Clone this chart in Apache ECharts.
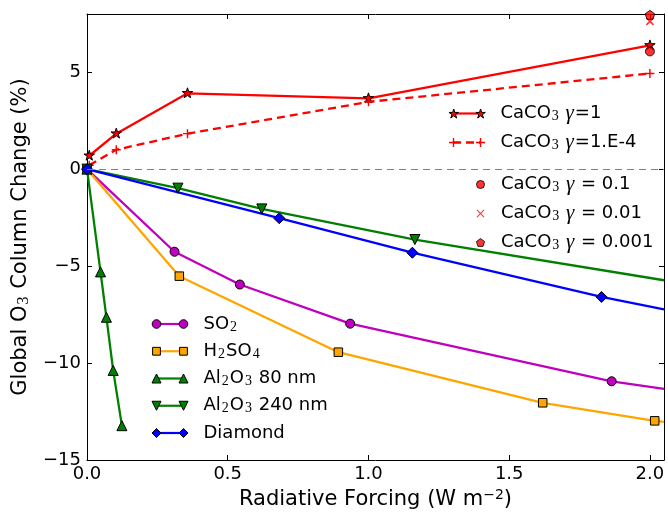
<!DOCTYPE html>
<html>
<head>
<meta charset="utf-8">
<script src="https://cdn.jsdelivr.net/npm/echarts@6/dist/echarts.min.js"></script>
<style>html,body{margin:0;padding:0;background:#fff}#c{width:668px;height:512px}</style>
</head>
<body>
<div id="c"></div>
<script>
// ---------------- data ----------------
const xTickLabels = [0.0, 0.5, 1.0, 1.5, 2.0];
const yTickLabels = [-15, -10, -5, 0, 5];

const caco3X         = [0.008, 0.104, 0.357, 1.0, 2.0];
const caco3Gamma1Y   = [0.69, 1.83, 3.91, 3.65, 6.38];
const caco3Gamma1e4Y = [0.20, 1.00, 1.83, 3.47, 4.93];

const caco3PointX      = [2.0];
const caco3Gamma01Y    = [6.07];
const caco3Gamma001Y   = [7.62];
const caco3Gamma0001Y  = [7.93];

const so2X     = [0, 0.311, 0.543, 0.935, 1.864, 2.05];
const so2Y     = [0, -4.26, -5.95, -7.97, -10.94, -11.33];
const h2so4X   = [0, 0.328, 0.893, 1.619, 2.017, 2.05];
const h2so4Y   = [0, -5.52, -9.44, -12.05, -12.98, -13.03];
const al80X    = [0, 0.048, 0.069, 0.093, 0.124];
const al80Y    = [0, -5.30, -7.64, -10.38, -13.23];
const al240X   = [0, 0.323, 0.621, 1.165, 2.05];
const al240Y   = [0, -0.98, -2.05, -3.63, -5.73];
const diamondX = [0, 0.683, 1.156, 1.828, 2.05];
const diamondY = [0, -2.53, -4.31, -6.59, -7.23];

// ---------------- styling ----------------
const X_MIN = 0, X_MAX = 2.05, Y_MIN = -15, Y_MAX = 8;
const RED = '#ff0000', MAG = '#bf00bf', ORG = '#ffa500', GRN = '#008000', BLU = '#0000ff';

// marker paths (100x100 boxes; leading moveTos fix the bounding box)
const STAR_PATH = 'path://M0,0 M100,100 M50,0 L61.2,34.5 L97.6,34.5 L68.2,55.9 L79.4,90.5 L50,69.1 L20.6,90.5 L31.8,55.9 L2.4,34.5 L38.8,34.5 Z';
const PLUS_PATH = 'path://M42,0 H58 V42 H100 V58 H58 V100 H42 V58 H0 V42 H42 Z';
const PENT_PATH = 'path://M0,0 M100,100 M50,0 L97.6,34.5 L79.4,90.5 L20.6,90.5 L2.4,34.5 Z';

function pairs(xs, ys) {
  return xs.map((x, i) => {
    const p = { value: [x, ys[i]] };
    if (x >= X_MAX) p.symbol = 'none';   // point only continues the line to the frame edge
    return p;
  });
}

// legend icon geometry (47 x 9 box, markers centred at 4.5 and 31.5)
const LW = 47, LH = 9, C1 = 4.5, C2 = 31.5, CY = 4.5;
const BOX = `M0,0 M${LW},${LH} `;
const f = (n) => n.toFixed(2);
function poly(pts) { return 'M' + pts.map(p => f(p[0]) + ',' + f(p[1])).join(' L') + ' Z '; }
function circ(cx, r) { return `M${f(cx - r)},${CY} A${r},${r} 0 1,0 ${f(cx + r)},${CY} A${r},${r} 0 1,0 ${f(cx - r)},${CY} Z `; }
function sq(cx, a) { return poly([[cx - a, CY - a], [cx + a, CY - a], [cx + a, CY + a], [cx - a, CY + a]]); }
function triUp(cx, r) { return poly([[cx, CY - r], [cx + r, CY + r], [cx - r, CY + r]]); }
function triDn(cx, r) { return poly([[cx - r, CY - r], [cx + r, CY - r], [cx, CY + r]]); }
function diam(cx, r) { return poly([[cx, CY - r], [cx + r, CY], [cx, CY + r], [cx - r, CY]]); }
function starP(cx, r) {
  const pts = [];
  for (let k = 0; k < 10; k++) {
    const a = (-90 + 36 * k) * Math.PI / 180, rr = k % 2 ? r * 0.382 : r;
    pts.push([cx + rr * Math.cos(a), CY + 0.5 + rr * Math.sin(a)]);
  }
  return poly(pts);
}
function pentP(cx, r) {
  const pts = [];
  for (let k = 0; k < 5; k++) {
    const a = (-90 + 72 * k) * Math.PI / 180;
    pts.push([cx + r * Math.cos(a), CY + 0.4 + r * Math.sin(a)]);
  }
  return poly(pts);
}
function crossP(cx, r, t, rot) {
  const base = [[-t, -r], [t, -r], [t, -t], [r, -t], [r, t], [t, t], [t, r], [-t, r], [-t, t], [-r, t], [-r, -t], [-t, -t]];
  const c = Math.cos(rot), s = Math.sin(rot);
  return poly(base.map(p => [cx + p[0] * c - p[1] * s, CY + p[0] * s + p[1] * c]));
}
const lineIcon = 'path://' + BOX + `M${C1},${CY - 1.1} H${C2} V${CY + 1.1} H${C1} Z`;
const dashIcon = 'path://' + BOX + `M${C1},${CY - 1.2} H12.5 V${CY + 1.2} H${C1} Z M17.5,${CY - 1.2} H25.5 V${CY + 1.2} H17.5 Z M30.5,${CY - 1.2} H${C2} V${CY + 1.2} H30.5 Z`;
const twice = (fn, ...a) => 'path://' + BOX + fn(C1, ...a) + fn(C2, ...a);
const once = (fn, ...a) => 'path://' + BOX + fn(C2, ...a);

// names and their rich-text labels
const N = {
  g1: 'CaCO3 γ=1', g1e4: 'CaCO3 γ=1.E-4', g01: 'CaCO3 γ = 0.1', g001: 'CaCO3 γ = 0.01', g0001: 'CaCO3 γ = 0.001',
  so2: 'SO2', h2so4: 'H2SO4', al80: 'Al2O3 80 nm', al240: 'Al2O3 240 nm', dia: 'Diamond'
};
const RICH_LABEL = {};
RICH_LABEL[N.g1]    = '{t|CaCO}{s|3}{t| }{g|γ}{t|=1}';
RICH_LABEL[N.g1e4]  = '{t|CaCO}{s|3}{t| }{g|γ}{t|=1.E-4}';
RICH_LABEL[N.g01]   = '{t|CaCO}{s|3}{t| }{g|γ}{t| = 0.1}';
RICH_LABEL[N.g001]  = '{t|CaCO}{s|3}{t| }{g|γ}{t| = 0.01}';
RICH_LABEL[N.g0001] = '{t|CaCO}{s|3}{t| }{g|γ}{t| = 0.001}';
RICH_LABEL[N.so2]   = '{t|SO}{s|2}';
RICH_LABEL[N.h2so4] = '{t|H}{s|2}{t|SO}{s|4}';
RICH_LABEL[N.al80]  = '{t|Al}{s|2}{t|O}{s|3}{t| 80 nm}';
RICH_LABEL[N.al240] = '{t|Al}{s|2}{t|O}{s|3}{t| 240 nm}';
RICH_LABEL[N.dia]   = '{t|Diamond}';

function rich(color, size, lh, subLh) {
  return {
    t: { fontFamily: 'DejaVu Sans', fontSize: size, color: color, lineHeight: lh },
    s: { fontFamily: 'Liberation Serif', fontSize: Math.round(size * 0.75), color: color, lineHeight: subLh, verticalAlign: 'bottom', padding: [0, 1, 0, 1] },
    p: { fontFamily: 'DejaVu Sans', fontSize: Math.round(size * 0.66), color: color, lineHeight: subLh, verticalAlign: 'top' },
    g: { fontFamily: 'Liberation Serif', fontStyle: 'italic', fontSize: size + 3, color: color, lineHeight: lh, padding: [0, 1, 0, 0] }
  };
}

function legendLayer(items, left, top, gap, visibleText, z) {
  const col = visibleText ? '#000' : 'rgba(0,0,0,0)';
  return {
    orient: 'vertical', left: left, top: top, itemGap: gap, padding: 0,
    itemWidth: LW, itemHeight: LH, symbolKeepAspect: false, selectedMode: false, z: z,
    data: items,
    formatter: (name) => RICH_LABEL[name],
    textStyle: { color: col, fontFamily: 'DejaVu Sans', fontSize: 18, lineHeight: 20, rich: rich(col, 18, 20, 12) }
  };
}
const lineItem = (name, color, icon) => ({ name, icon: icon || lineIcon, itemStyle: { color, borderWidth: 0 } });
const markItem = (name, color, icon, border) => ({ name, icon, itemStyle: { color, borderColor: '#000', borderWidth: border === false ? 0 : 1 } });

const UP_LEFT = 448.5, LOW_LEFT = 151.5;

const legends = [
  legendLayer([lineItem(N.g1, RED), lineItem(N.g1e4, RED, dashIcon)], UP_LEFT, 103, 8, true, 4),
  legendLayer([markItem(N.g1, RED, twice(starP, 5)), markItem(N.g1e4, RED, twice(crossP, 4.5, 0.7, 0), false)], UP_LEFT, 103, 8, false, 5),
  legendLayer([markItem(N.g01, RED, once(circ, 4)), markItem(N.g001, RED, once(crossP, 5, 0.55, Math.PI / 4), false), markItem(N.g0001, RED, once(pentP, 4.3))], UP_LEFT, 174, 8, true, 5),
  legendLayer([lineItem(N.so2, MAG), lineItem(N.h2so4, ORG), lineItem(N.al80, GRN), lineItem(N.al240, GRN), lineItem(N.dia, BLU)], LOW_LEFT, 314, 7.25, true, 4),
  legendLayer([markItem(N.so2, MAG, twice(circ, 4.3)), markItem(N.h2so4, ORG, twice(sq, 3.9)), markItem(N.al80, GRN, twice(triUp, 4.5)),
               markItem(N.al240, GRN, twice(triDn, 4.5)), markItem(N.dia, BLU, twice(diam, 4.5))], LOW_LEFT, 314, 7.25, false, 5)
];

function lineSeries(name, xs, ys, color, symbol, size, extra) {
  return Object.assign({
    name, type: 'line', data: pairs(xs, ys), symbol, symbolSize: size, showSymbol: true,
    lineStyle: { color, width: 2.3 },
    itemStyle: { color, borderColor: '#000', borderWidth: 1 },
    emphasis: { disabled: true }, clip: true, z: 2
  }, extra || {});
}
function scatterSeries(name, xs, ys, symbol, size, border, rot) {
  return {
    name, type: 'scatter', data: pairs(xs, ys), symbol, symbolSize: size, symbolRotate: rot || 0,
    itemStyle: { color: RED, borderColor: '#000', borderWidth: border ? 1 : 0 },
    emphasis: { disabled: true }, z: 3
  };
}

const series = [
  lineSeries(N.g1, caco3X, caco3Gamma1Y, RED, STAR_PATH, 11, {
    markLine: {
      silent: true, symbol: ['none', 'none'], label: { show: false }, animation: false,
      lineStyle: { color: '#808080', width: 1, type: [7, 5] },
      emphasis: { disabled: true },
      data: [{ yAxis: 0 }]
    }
  }),
  lineSeries(N.g1e4, caco3X, caco3Gamma1e4Y, RED, PLUS_PATH, 9, {
    lineStyle: { color: RED, width: 2.3, type: [8, 5] },
    itemStyle: { color: RED, borderWidth: 0 }
  }),
  scatterSeries(N.g01, caco3PointX, caco3Gamma01Y, 'circle', 9, true),
  scatterSeries(N.g001, caco3PointX, caco3Gamma001Y, PLUS_PATH, 10, false, 45),
  scatterSeries(N.g0001, caco3PointX, caco3Gamma0001Y, PENT_PATH, 10, true),
  lineSeries(N.so2, so2X, so2Y, MAG, 'circle', 9),
  lineSeries(N.h2so4, h2so4X, h2so4Y, ORG, 'rect', 8.5),
  lineSeries(N.al80, al80X, al80Y, GRN, 'triangle', 10),
  lineSeries(N.al240, al240X, al240Y, GRN, 'triangle', 10, { symbolRotate: 180 }),
  lineSeries(N.dia, diamondX, diamondY, BLU, 'diamond', 11)
];

const near = (v, arr) => arr.some(t => Math.abs(t - v) < 1e-6);
const axisLine = { show: true, onZero: false, lineStyle: { color: '#000', width: 1 } };
const axisTick = { show: true, inside: true, length: 5, lineStyle: { color: '#000', width: 1 } };
const tickFont = { fontFamily: 'DejaVu Sans', fontSize: 18, color: '#000' };

const option = {
  animation: false,
  backgroundColor: '#fff',
  grid: { left: 87, right: 4, top: 14, bottom: 52, containLabel: false, outerBoundsMode: 'none' },
  legend: legends,
  xAxis: [
    {
      type: 'value', position: 'bottom', min: X_MIN, max: X_MAX, interval: 0.5,
      axisLine, axisTick, splitLine: { show: false },
      axisLabel: Object.assign({ margin: 5, showMaxLabel: true, hideOverlap: false,
        formatter: (v) => near(v, xTickLabels) ? v.toFixed(1) : '' }, tickFont),
      name: '{t|Radiative Forcing (W m}{p|−2}{t|)}', nameLocation: 'middle', nameGap: 24,
      nameTextStyle: { rich: rich('#000', 21, 24, 14) }
    },
    {
      type: 'value', position: 'top', min: X_MIN, max: X_MAX, interval: 0.5,
      axisLine, axisTick, splitLine: { show: false }, axisLabel: { show: false }
    }
  ],
  yAxis: [
    {
      type: 'value', position: 'left', min: Y_MIN, max: Y_MAX, interval: 5,
      axisLine, axisTick, splitLine: { show: false },
      axisLabel: Object.assign({ margin: 6, hideOverlap: false,
        formatter: (v) => near(v, yTickLabels) ? (v < 0 ? '−' + Math.abs(v) : String(v)) : '' }, tickFont),
      name: '{t|Global O}{s|3}{t| Column Change (%)}', nameLocation: 'middle', nameGap: 50, nameRotate: 90,
      nameTextStyle: { rich: rich('#000', 21, 24, 14) }
    },
    {
      type: 'value', position: 'right', min: Y_MIN, max: Y_MAX, interval: 5,
      axisLine, axisTick, splitLine: { show: false }, axisLabel: { show: false }
    }
  ],
  series: series
};

const chart = echarts.init(document.getElementById('c'), null, { renderer: 'canvas' });
chart.setOption(option);
</script>
</body>
</html>
